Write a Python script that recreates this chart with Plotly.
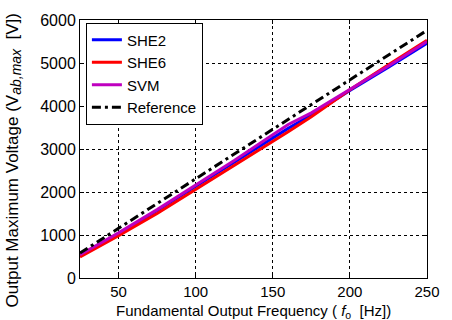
import plotly.graph_objects as go

freq = [25, 50, 75, 100, 125, 150, 160, 175, 200, 225, 250]
she2 = [520, 1030, 1570, 2130, 2700, 3250, 3480, 3790, 4360, 4900, 5460]
she6 = [490, 985, 1500, 2060, 2610, 3160, 3400, 3750, 4380, 4960, 5530]
svm = [540, 1050, 1590, 2150, 2730, 3330, 3570, 3840, 4380, 4930, 5500]
reference = [580, 1155, 1730, 2300, 2880, 3450, 3690, 4030, 4600, 5180, 5760]

series_names = ["SHE2", "SHE6", "SVM", "Reference"]
x_ticks = [50, 100, 150, 200, 250]
y_ticks = [0, 1000, 2000, 3000, 4000, 5000, 6000]

FONT = "Liberation Sans, Arial, sans-serif"

fig = go.Figure()
fig.add_trace(go.Scatter(x=freq, y=she2, name=series_names[0], mode="lines",
                         line=dict(color="#0000FF", width=3)))
fig.add_trace(go.Scatter(x=freq, y=she6, name=series_names[1], mode="lines",
                         line=dict(color="#FF0000", width=3)))
fig.add_trace(go.Scatter(x=freq, y=svm, name=series_names[2], mode="lines",
                         line=dict(color="#BF00BF", width=3)))
fig.add_trace(go.Scatter(x=freq, y=reference, name=series_names[3], mode="lines",
                         line=dict(color="#000000", width=3, dash="9px,4px,3px,4px")))

axis_common = dict(
    showline=True, linecolor="black", linewidth=1, mirror="ticks",
    ticks="inside", ticklen=4, tickcolor="black",
    showgrid=True, gridcolor="black", gridwidth=1, griddash="dot",
    zeroline=False,
)

fig.update_xaxes(range=[25, 250], tickvals=x_ticks,
                 tickfont=dict(family=FONT, size=15, color="black"), **axis_common)
fig.update_yaxes(range=[0, 6000], tickvals=y_ticks,
                 tickfont=dict(family=FONT, size=16, color="black"), **axis_common)

fig.update_layout(
    width=452, height=320,
    margin=dict(l=80, r=14, t=19, b=42),
    paper_bgcolor="white", plot_bgcolor="white",
    font=dict(family=FONT, size=16, color="black"),
    showlegend=True,
    legend=dict(x=0.017, y=0.99, xanchor="left", yanchor="top",
                bgcolor="white", bordercolor="black", borderwidth=1,
                font=dict(family=FONT, size=15, color="black"),
                tracegroupgap=0),
    annotations=[
        dict(text="Fundamental Output Frequency ( <i>f</i><sub>o</sub>  [Hz])",
             xref="paper", yref="paper", x=0.5, y=-0.09,
             xanchor="center", yanchor="top", showarrow=False, borderpad=0,
             font=dict(family=FONT, size=15, color="black")),
        dict(text="Output Maximum Voltage (V<sub><i><span style='font-size:14px'>ab,max</span></i></sub>  [V])",
             xref="paper", yref="paper", x=-0.19, y=0.456,
             xanchor="center", yanchor="middle", showarrow=False, textangle=-90,
             font=dict(family=FONT, size=17, color="black")),
    ],
)

fig.write_html("out.html")
